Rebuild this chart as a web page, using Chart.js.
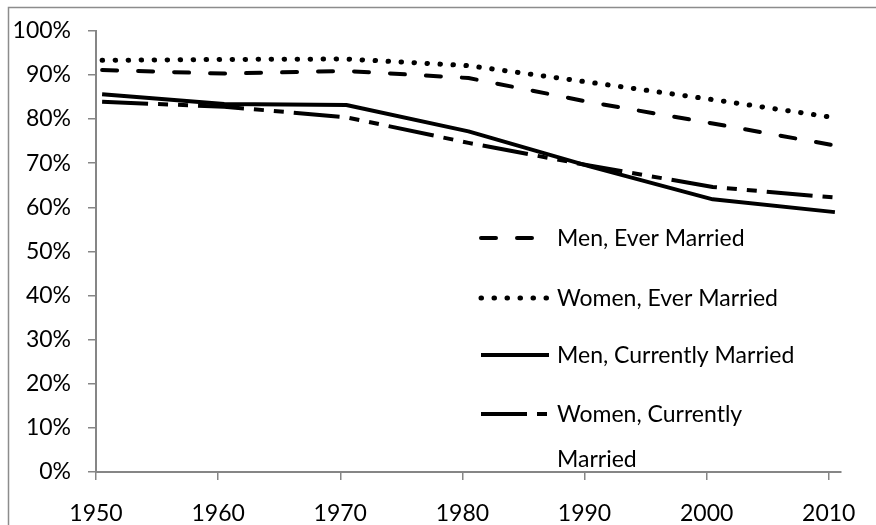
<!DOCTYPE html>
<html>
<head>
<meta charset="utf-8">
<script src="https://cdn.jsdelivr.net/npm/chart.js@4/dist/chart.umd.min.js"></script>
<style>
  html, body { margin: 0; padding: 0; background: #fff; }
  #wrap { position: relative; width: 876px; height: 525px; }
</style>
</head>
<body>
<div id="wrap"><canvas id="myChart" width="876" height="525"></canvas></div>
<script>
// Data (percent); points sit about half a year right of the ticks
const yearPoints = [1950.5, 1960.5, 1970.5, 1980.5, 1990.5, 2000.5, 2010.5];
const menEverMarried = [91.1, 90.3, 90.9, 89.3, 83.8, 79.0, 74.0];
const womenEverMarried = [93.3, 93.5, 93.6, 92.1, 88.3, 84.4, 80.3];
const menCurrentlyMarried = [85.6, 83.4, 83.2, 77.2, 69.2, 61.8, 58.9];
const womenCurrentlyMarried = [83.9, 82.8, 80.4, 74.6, 69.4, 64.6, 62.2];
const seriesLabels = ["Men, Ever Married", "Women, Ever Married", "Men, Currently Married", "Women, Currently Married"];

const axisGrey = "#868686";
const fontFamily = "Lato, 'Open Sans', sans-serif";
const fontSize = 23;

function points(values) {
  return values.map((v, i) => ({ x: yearPoints[i], y: v }));
}

// outer frame of the chart object (only left and top edges are visible)
const framePlugin = {
  id: "frame",
  beforeDraw(chart) {
    const ctx = chart.ctx;
    ctx.save();
    ctx.strokeStyle = "#8c8c8c";
    ctx.lineWidth = 1.5;
    ctx.beginPath();
    ctx.moveTo(8.5, chart.height);
    ctx.lineTo(8.5, 7.5);
    ctx.lineTo(chart.width, 7.5);
    ctx.stroke();
    ctx.restore();
  },
};

// legend drawn with the real line styles of each dataset
const lineLegendPlugin = {
  id: "lineLegend",
  afterDraw(chart) {
    const ctx = chart.ctx;
    const lineX = 481, lineLen = 68, textX = 557, maxWidth = 255;
    const rowsY = [238, 298, 355, 414];
    const lineGap = 45;
    ctx.save();
    ctx.font = fontSize + "px " + fontFamily;
    ctx.fillStyle = "#000";
    ctx.textBaseline = "alphabetic";
    chart.data.datasets.forEach((ds, i) => {
      const y = rowsY[i];
      ctx.save();
      ctx.strokeStyle = ds.borderColor;
      ctx.lineWidth = ds.borderWidth;
      ctx.lineCap = ds.borderCapStyle || "butt";
      ctx.setLineDash(ds.borderDash || []);
      ctx.beginPath();
      ctx.moveTo(lineX, y);
      ctx.lineTo(lineX + lineLen, y);
      ctx.stroke();
      ctx.restore();
      // wrap long labels like the original legend does
      const words = ds.label.split(" ");
      const lines = [];
      let cur = "";
      words.forEach((w) => {
        const test = cur ? cur + " " + w : w;
        if (ctx.measureText(test).width > maxWidth && cur) {
          lines.push(cur);
          cur = w;
        } else {
          cur = test;
        }
      });
      lines.push(cur);
      lines.forEach((t, j) => {
        ctx.fillText(t, textX, y + 8 + j * lineGap);
      });
    });
    ctx.restore();
  },
};

const data = {
  datasets: [
    {
      label: seriesLabels[0],
      data: points(menEverMarried),
      borderColor: "#000",
      backgroundColor: "#000",
      borderWidth: 4,
      borderDash: [15, 21],
      borderCapStyle: "round",
    },
    {
      label: seriesLabels[1],
      data: points(womenEverMarried),
      borderColor: "#000",
      backgroundColor: "#000",
      borderWidth: 5,
      borderDash: [0.5, 12.5],
      borderCapStyle: "round",
    },
    {
      label: seriesLabels[2],
      data: points(menCurrentlyMarried),
      borderColor: "#000",
      backgroundColor: "#000",
      borderWidth: 4,
      borderCapStyle: "butt",
    },
    {
      label: seriesLabels[3],
      data: points(womenCurrentlyMarried),
      borderColor: "#000",
      backgroundColor: "#000",
      borderWidth: 4,
      borderDash: [46, 10, 10, 10, 10, 10],
      borderCapStyle: "butt",
    },
  ],
};

const config = {
  type: "line",
  data: data,
  options: {
    responsive: false,
    animation: false,
    layout: { padding: { left: 0, top: 24, right: 33, bottom: 0 } },
    elements: {
      point: { radius: 0 },
      line: { tension: 0, borderJoinStyle: "round" },
    },
    scales: {
      x: {
        type: "linear",
        min: 1950,
        max: 2011,
        afterFit: (scale) => { scale.height = 53; },
        ticks: {
          stepSize: 10,
          includeBounds: false,
          color: "#000",
          padding: 20,
          maxRotation: 0,
          font: { family: fontFamily, size: fontSize },
          callback: (v) => String(v),
        },
        grid: { drawOnChartArea: false, tickLength: 8, color: axisGrey, lineWidth: 1.5 },
        border: { color: axisGrey, width: 2 },
      },
      y: {
        min: 0,
        max: 100,
        afterFit: (scale) => { scale.width = 96; },
        ticks: {
          stepSize: 10,
          color: "#000",
          padding: 17,
          font: { family: fontFamily, size: fontSize },
          callback: (v) => v + "%",
        },
        grid: { drawOnChartArea: false, tickLength: 8, color: axisGrey, lineWidth: 1.5 },
        border: { color: axisGrey, width: 2 },
      },
    },
    plugins: {
      legend: { display: false },
      tooltip: { enabled: false },
    },
  },
  plugins: [framePlugin, lineLegendPlugin],
};

myChart = new Chart(document.getElementById("myChart"), config);
</script>
</body>
</html>
